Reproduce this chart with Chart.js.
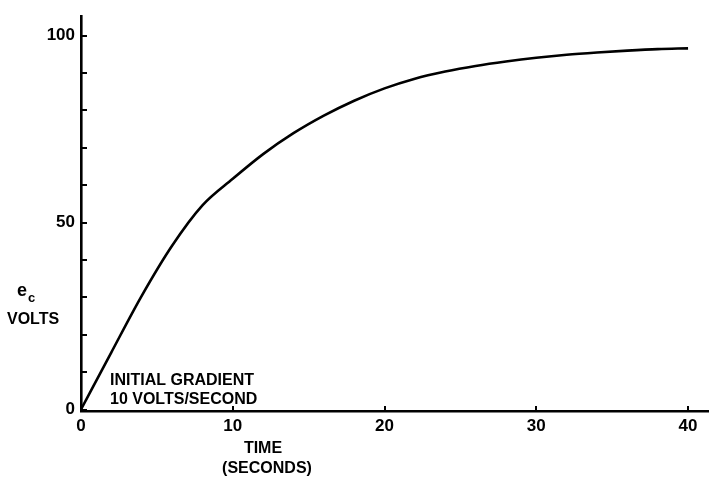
<!DOCTYPE html>
<html>
<head>
<meta charset="utf-8">
<script src="https://cdn.jsdelivr.net/npm/chart.js@4"></script>
<style>
  html, body { margin: 0; padding: 0; background: #fff; }
  #wrap { width: 709px; height: 477px; position: relative; }
</style>
</head>
<body>
<div id="wrap"><canvas id="c"></canvas></div>
<script>
// Data
const timeSeconds = [0, 2, 4, 6, 8, 10, 12, 14, 16, 18, 20, 22, 24, 26, 28, 30, 32, 34, 36, 38, 40];
const voltsEc     = [0, 15.3, 30.4, 43.8, 54.6, 61.7, 68.3, 73.9, 78.6, 82.6, 85.9, 88.5, 90.4, 91.9, 93.1, 94.1, 94.9, 95.5, 96.0, 96.4, 96.6];
const xTickValues = [0, 10, 20, 30, 40];
const yTickValues = [0, 10, 20, 30, 40, 50, 60, 70, 80, 90, 100];
const yLabelledTicks = [0, 50, 100];
const yAxisTitle = ['e', 'c', 'VOLTS'];
const xAxisTitle = ['TIME', '(SECONDS)'];
const annotation = ['INITIAL GRADIENT', '10 VOLTS/SECOND'];

const FONT = '"Liberation Sans", Arial, sans-serif';

const points = timeSeconds.map((t, i) => ({ x: t, y: voltsEc[i] }));

const decorPlugin = {
  id: 'decor',
  afterDraw(chart) {
    const ctx = chart.ctx;
    const xs = chart.scales.x, ys = chart.scales.y;
    const area = chart.chartArea;
    ctx.save();
    ctx.strokeStyle = '#000';
    ctx.lineWidth = 2;
    // inward ticks on y axis
    yTickValues.forEach(v => {
      const py = Math.round(ys.getPixelForValue(v));
      ctx.beginPath();
      ctx.moveTo(area.left, py);
      ctx.lineTo(area.left + 6, py);
      ctx.stroke();
    });
    // inward ticks on x axis
    xTickValues.forEach(v => {
      if (v === 0) return;
      const px = Math.round(xs.getPixelForValue(v));
      ctx.beginPath();
      ctx.moveTo(px, area.bottom);
      ctx.lineTo(px, area.bottom - 5);
      ctx.stroke();
    });
    ctx.fillStyle = '#000';
    ctx.textBaseline = 'alphabetic';
    // y-axis title: e with subscript c, then VOLTS
    ctx.textAlign = 'left';
    ctx.font = 'bold 18px ' + FONT;
    ctx.fillText(yAxisTitle[0], 17, 296);
    ctx.font = 'bold 13px ' + FONT;
    ctx.fillText(yAxisTitle[1], 28, 302);
    ctx.font = 'bold 16px ' + FONT;
    ctx.fillText(yAxisTitle[2], 7, 324);
    // x-axis title
    ctx.textAlign = 'center';
    ctx.fillText(xAxisTitle[0], 263, 453);
    ctx.fillText(xAxisTitle[1], 267, 473);
    // annotation
    ctx.textAlign = 'left';
    ctx.fillText(annotation[0], 110, 385);
    ctx.fillText(annotation[1], 110, 404);
    ctx.restore();
  }
};

new Chart(document.getElementById('c'), {
  type: 'line',
  data: {
    datasets: [{
      data: points,
      borderColor: '#000',
      borderWidth: 2.6,
      pointRadius: 0,
      fill: false,
      cubicInterpolationMode: 'monotone'
    }]
  },
  options: {
    responsive: true,
    maintainAspectRatio: false,
    animation: false,
    events: [],
    layout: { padding: { top: 10, right: 0, left: 0, bottom: 0 } },
    plugins: { legend: { display: false }, tooltip: { enabled: false } },
    scales: {
      x: {
        type: 'linear',
        min: 0,
        max: 41.38,
        afterFit(s) { s.height = 66; },
        grid: { display: false, drawTicks: false },
        border: { display: true, color: '#000', width: 2.6 },
        ticks: {
          stepSize: 10,
          includeBounds: false,
          padding: 5,
          color: '#000',
          font: { family: FONT, size: 17, weight: 'bold' },
          maxRotation: 0,
          callback: v => (xTickValues.includes(v) ? String(v) : '')
        }
      },
      y: {
        type: 'linear',
        min: -0.4,
        max: 105.2,
        afterFit(s) { s.width = 81; },
        grid: { display: false, drawTicks: false },
        border: { display: true, color: '#000', width: 2.6 },
        ticks: {
          stepSize: 10,
          includeBounds: false,
          padding: 6,
          color: '#000',
          font: { family: FONT, size: 17, weight: 'bold' },
          callback: v => (yLabelledTicks.includes(v) ? String(v) : '')
        }
      }
    }
  },
  plugins: [decorPlugin]
});
</script>
</body>
</html>
